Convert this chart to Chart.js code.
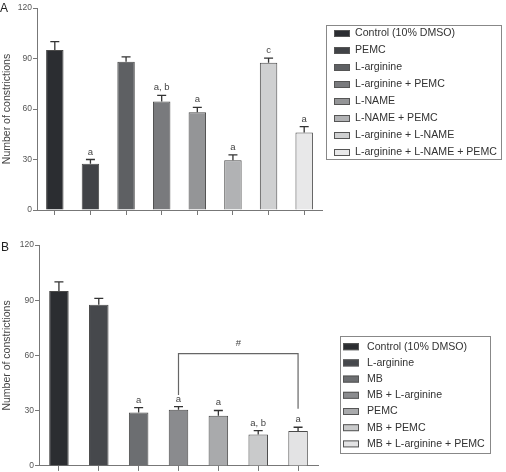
<!DOCTYPE html>
<html>
<head>
<meta charset="utf-8">
<script src="https://cdn.jsdelivr.net/npm/chart.js@4.4.0/dist/chart.umd.min.js"></script>
<style>
  html, body { margin: 0; padding: 0; background: #fff; }
  #wrap { position: relative; width: 506px; height: 472px; }
  canvas { position: absolute; left: 0; }
</style>
</head>
<body>
<div id="wrap">
  <canvas id="chartA" width="506" height="232" style="top:0"></canvas>
  <canvas id="chartB" width="506" height="240" style="top:232px"></canvas>
</div>
<script>
// Panel A data
const groupsA = ['Control (10% DMSO)', 'PEMC', 'L-arginine', 'L-arginine + PEMC', 'L-NAME',
  'L-NAME + PEMC', 'L-arginine + L-NAME', 'L-arginine + L-NAME + PEMC'];
const meansA = [95, 27.5, 88, 64.5, 58, 29.5, 87.5, 46];
const semA = [5, 2.5, 3, 3.6, 3, 3.2, 2.7, 3.5];
const marksA = ['', 'a', '', 'a, b', 'a', 'a', 'c', 'a'];
const coloursA = ['#2b2d31', '#414347', '#5e6063', '#797a7d', '#949597', '#b1b2b4', '#cfd0d1', '#e8e8e9'];

// Panel B data
const groupsB = ['Control (10% DMSO)', 'L-arginine', 'MB', 'MB + L-arginine', 'PEMC',
  'MB + PEMC', 'MB + L-arginine + PEMC'];
const meansB = [95, 87.6, 29, 30.5, 27.2, 17, 19];
const semB = [5, 3.4, 2.7, 1.7, 2.9, 2.2, 2];
const marksB = ['', '', 'a', 'a', 'a', 'a, b', 'a'];
const coloursB = ['#2b2d31', '#46484c', '#6c6e71', '#8a8b8e', '#a9aaac', '#c9cacb', '#e3e3e4'];
const bracketB = { from: 3, to: 6, level: 61, leftFoot: 38.5, rightFoot: 31, mark: '#' };

const yTicks = [0, 30, 60, 90, 120];
const FONT = "'Liberation Sans', Arial, sans-serif";

Chart.defaults.font.family = FONT;
Chart.defaults.color = '#444';

// error bars + significance letters
const errorBars = {
  id: 'errorBars',
  afterDatasetsDraw(chart, args, opts) {
    const { ctx, scales: { x, y } } = chart;
    ctx.save();
    ctx.strokeStyle = '#333';
    ctx.lineWidth = 1.3;
    ctx.fillStyle = '#444';
    ctx.font = '9.5px ' + FONT;
    ctx.textAlign = 'center';
    opts.means.forEach((m, i) => {
      const px = x.getPixelForValue(i);
      const yTop = y.getPixelForValue(m + opts.sem[i]);
      const yMid = y.getPixelForValue(m);
      ctx.beginPath();
      ctx.moveTo(px, yMid);
      ctx.lineTo(px, yTop);
      ctx.moveTo(px - 4.5, yTop);
      ctx.lineTo(px + 4.5, yTop);
      ctx.stroke();
      if (opts.marks[i]) ctx.fillText(opts.marks[i], px, yTop - 5);
    });
    const b = opts.bracket;
    if (b) {
      const x1 = x.getPixelForValue(b.from), x2 = x.getPixelForValue(b.to);
      const yl = y.getPixelForValue(b.level);
      ctx.strokeStyle = '#666';
      ctx.lineWidth = 1.2;
      ctx.beginPath();
      ctx.moveTo(x1, y.getPixelForValue(b.leftFoot));
      ctx.lineTo(x1, yl);
      ctx.lineTo(x2, yl);
      ctx.lineTo(x2, y.getPixelForValue(b.rightFoot));
      ctx.stroke();
      ctx.fillText(b.mark, (x1 + x2) / 2, yl - 8);
    }
    ctx.restore();
  }
};

// boxed legend + panel letter
const boxLegend = {
  id: 'boxLegend',
  afterDraw(chart, args, opts) {
    const { ctx } = chart;
    ctx.save();
    ctx.fillStyle = '#222';
    ctx.font = '12px ' + FONT;
    ctx.textAlign = 'left';
    ctx.textBaseline = 'alphabetic';
    ctx.fillText(opts.letter, opts.letterX, opts.letterY);

    ctx.strokeStyle = '#888';
    ctx.lineWidth = 1;
    ctx.strokeRect(opts.box[0] + 0.5, opts.box[1] + 0.5, opts.box[2], opts.box[3]);
    ctx.font = '10.6px ' + FONT;
    ctx.textBaseline = 'middle';
    opts.labels.forEach((lab, i) => {
      const cy = opts.firstY + i * opts.step;
      ctx.fillStyle = opts.colours[i];
      ctx.fillRect(opts.swatchX, cy - 3.5, 16, 7);
      ctx.strokeStyle = '#555';
      ctx.strokeRect(opts.swatchX + 0.5, cy - 3.5 + 0.5, 15, 6);
      ctx.fillStyle = '#333';
      ctx.fillText(lab, opts.textX, cy);
    });
    ctx.restore();
  }
};

function makePanel(id, groups, means, sem, marks, colours, lay, extra) {
  return new Chart(document.getElementById(id), {
    type: 'bar',
    data: {
      labels: groups,
      datasets: [{
        data: means,
        backgroundColor: colours,
        borderColor: '#4a4a4a',
        borderWidth: 1,
        borderSkipped: 'bottom',
        barPercentage: 0.49,
        categoryPercentage: 1
      }]
    },
    options: {
      responsive: false,
      animation: false,
      devicePixelRatio: 1,
      layout: { padding: { top: lay.top, right: lay.right, left: 0, bottom: 0 } },
      plugins: {
        legend: { display: false },
        tooltip: { enabled: false },
        errorBars: { means, sem, marks, bracket: extra.bracket },
        boxLegend: extra.legend
      },
      scales: {
        x: {
          ticks: { display: false },
          grid: { drawOnChartArea: false, offset: false, tickLength: 5, color: '#777' },
          border: { color: '#777' },
          afterFit: s => { s.height = lay.xHeight; }
        },
        y: {
          min: 0,
          max: 120,
          afterBuildTicks: s => { s.ticks = yTicks.map(v => ({ value: v })); },
          ticks: { font: { size: 8.5 }, color: '#555', padding: 1 },
          grid: { drawOnChartArea: false, tickLength: 4, color: '#777' },
          border: { color: '#777' },
          title: {
            display: true,
            text: 'Number of constrictions',
            font: { size: 10.5 },
            color: '#444',
            padding: { top: 1, bottom: 0 }
          },
          afterFit: s => { s.width = lay.yWidth; }
        }
      }
    },
    plugins: [errorBars, boxLegend]
  });
}

makePanel('chartA', groupsA, meansA, semA, marksA, coloursA,
  { top: 8, right: 184, xHeight: 22, yWidth: 37 },
  {
    legend: {
      letter: 'A', letterX: 0, letterY: 12,
      box: [326, 25, 175, 134],
      labels: groupsA, colours: coloursA,
      swatchX: 334, textX: 355, firstY: 33.5, step: 17
    }
  });

makePanel('chartB', groupsB, meansB, semB, marksB, coloursB,
  { top: 13, right: 188, xHeight: 4, yWidth: 39 },
  {
    bracket: bracketB,
    legend: {
      letter: 'B', letterX: 1, letterY: 19,
      box: [340, 104, 150, 117],
      labels: groupsB, colours: coloursB,
      swatchX: 343, textX: 367, firstY: 114.7, step: 16.2
    }
  });
</script>
</body>
</html>
